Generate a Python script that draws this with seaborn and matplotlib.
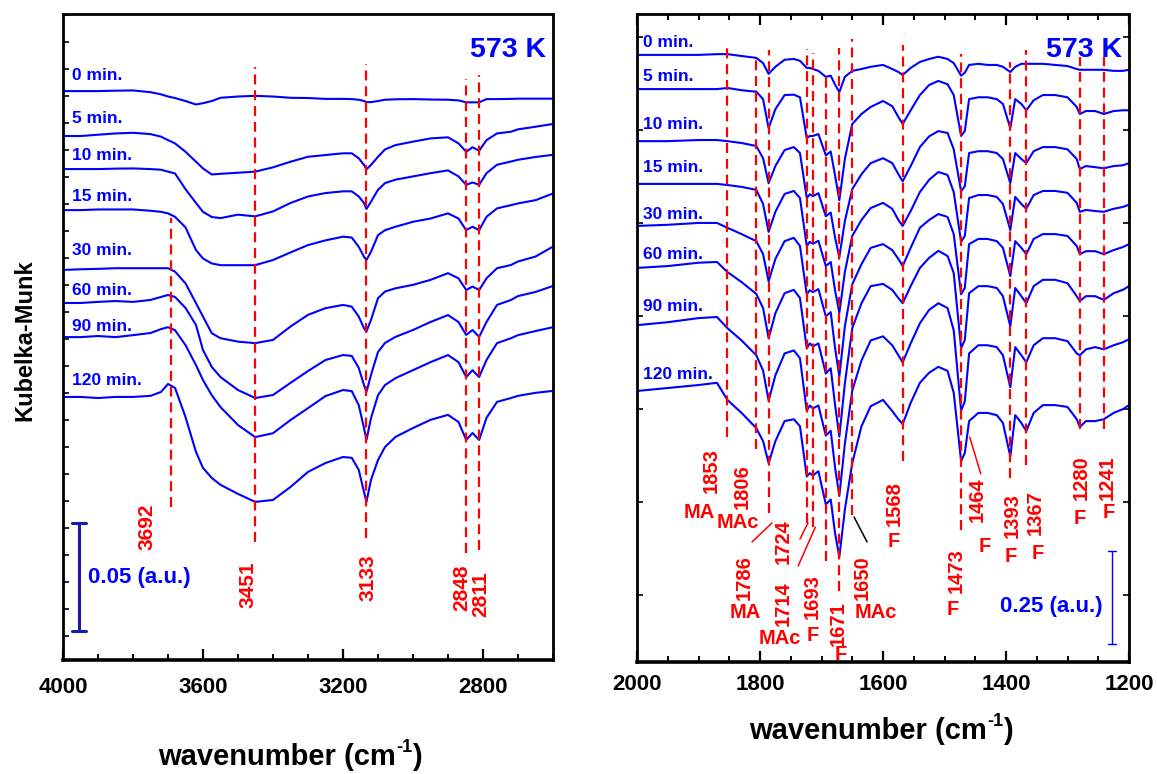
import numpy as np
import pandas as pd
import matplotlib
matplotlib.use("Agg")
import matplotlib.pyplot as plt
from matplotlib.ticker import MultipleLocator, NullFormatter
import seaborn as sns

sns.set_theme(style="ticks")
plt.rcParams["font.family"] = ["Liberation Sans", "DejaVu Sans"]
plt.rcParams["text.color"] = "black"
plt.rcParams["xtick.color"] = "black"
plt.rcParams["ytick.color"] = "black"
plt.rcParams["xtick.labelcolor"] = "black"

BLUE = "#0000ff"
RED = "#ff0000"

times = ["0 min.", "5 min.", "10 min.", "15 min.", "30 min.", "60 min.", "90 min.", "120 min."]

# ---- OH / CH stretching region (K-M, 1e-3 units, relative to the trace start) ----
wn_oh = [4000, 3950, 3900, 3850, 3800, 3750, 3720, 3700, 3680, 3650, 3620, 3600, 3575, 3550,
         3500, 3451, 3400, 3350, 3300, 3250, 3200, 3175, 3155, 3140, 3133, 3120, 3100, 3080,
         3050, 3000, 2950, 2900, 2870, 2848, 2830, 2811, 2790, 2760, 2720, 2700, 2650, 2600]
oh_0 = [0, 0, 0, 0.2, 0.3, -0.5, -1.5, -2.5, -3.2, -4.6, -6.2, -5.6, -4.6, -3.1, -2.5, -2.2,
        -2.5, -3.1, -3.2, -3.6, -3.6, -3.7, -4.0, -4.6, -5.1, -5.1, -4.6, -4.0, -3.8, -3.7,
        -3.9, -4.0, -4.3, -5.2, -5.2, -5.2, -3.7, -3.7, -3.6, -3.5, -3.5, -3.5]
oh_5 = [0, 0, 0.6, 1.2, 1.5, 0.9, -0.3, -1.9, -3.4, -7.3, -11.9, -15.0, -17.8, -17.5, -17.0,
        -16.5, -14.5, -11.9, -9.6, -8.8, -8.0, -8.0, -10.3, -13.4, -15.4, -13.4, -9.6, -6.2,
        -4.2, -2.6, -1.1, -0.6, -3.4, -7.3, -5.2, -6.8, -1.9, 1.2, 2.0, 3.1, 4.3, 5.6]
oh_10 = [0, 0, 0, 0.2, 0.3, 0, -0.3, -1.2, -2.0, -9.3, -15.7, -19.8, -22.2, -22.7, -21.1,
         -21.9, -19.6, -15.7, -12.7, -11.1, -10.3, -10.3, -12.7, -15.7, -18.5, -15.1, -9.6,
         -6.5, -4.9, -3.4, -1.9, -0.6, -3.4, -7.3, -6.2, -7.3, -1.9, 2.0, 3.5, 4.3, 5.6, 6.6]
oh_15 = [0, 0, 0.3, 0.3, 0.3, -0.3, -0.8, -1.5, -3.1, -8.0, -18.5, -22.4, -24.7, -25.5, -25.5,
         -25.5, -23.1, -19.6, -16.2, -14.0, -12.3, -12.7, -17.0, -21.6, -23.1, -19.3, -11.6,
         -9.3, -7.7, -5.4, -3.9, -1.5, -3.9, -9.3, -7.7, -9.3, -3.1, 0.8, 2.3, 3.1, 4.6, 7.7]
oh_30 = [0, 0.3, 0.5, 0.8, 0.8, 0.8, 0.8, 0.8, -0.8, -6.2, -15.4, -21.6, -29.3, -31.6, -33.2,
         -33.9, -32.4, -26.2, -20.8, -17.7, -16.2, -17.0, -21.6, -27.0, -28.5, -23.1, -13.1,
         -10.0, -8.5, -6.9, -4.6, -1.5, -3.9, -9.3, -7.7, -9.3, -3.9, 0.8, 2.3, 3.9, 6.2, 10.8]
oh_60 = [0, 0, 0.5, 0.9, 0.5, 1.4, 2.8, 3.7, 2.8, -2.3, -10.2, -21.8, -29.6, -34.3, -40.3,
         -44.0, -42.6, -37.0, -31.5, -26.4, -24.1, -24.5, -30.1, -38.0, -41.2, -33.3, -22.7,
         -18.5, -15.7, -12.5, -8.8, -5.6, -8.8, -14.8, -12.5, -15.7, -8.8, -0.9, 1.4, 3.2, 5.1, 7.9]
oh_90 = [0, 0, 0.5, 0, 0.9, 1.9, 3.7, 4.6, 3.2, -3.7, -13.0, -19.9, -26.9, -32.4, -40.7,
         -46.3, -44.5, -38.4, -32.9, -27.3, -24.5, -25.0, -31.5, -42.1, -47.7, -37.5, -26.9,
         -22.2, -19.0, -15.3, -11.6, -8.3, -11.6, -18.5, -15.3, -18.5, -10.6, -2.8, -0.5, 0.9, 2.8, 4.6]
oh_120 = [0, 0, -0.5, 0, 0, 0.5, 2.3, 6.0, 4.2, -9.3, -25.5, -32.9, -37.5, -40.7, -44.9,
          -48.6, -47.7, -41.7, -34.7, -30.6, -27.8, -28.2, -33.8, -44.0, -48.6, -38.4, -29.2,
          -23.2, -18.5, -14.4, -10.6, -8.3, -11.6, -19.9, -16.7, -19.9, -9.7, -2.3, -0.5, 0.5, 1.9, 2.8]
oh_offset = [252.3, 231.5, 216.2, 197.2, 169.5, 154.2, 138.4, 110.7]
oh_bands = [3692, 3451, 3133, 2848, 2811]

# ---- fingerprint region (K-M, 1e-3 units, relative to the trace start) ----
wn_fp = [2000, 1950, 1900, 1870, 1853, 1830, 1806, 1795, 1786, 1775, 1760, 1745, 1735, 1724,
         1719, 1714, 1705, 1693, 1685, 1678, 1671, 1662, 1650, 1635, 1620, 1600, 1585, 1575,
         1568, 1555, 1540, 1525, 1510, 1495, 1485, 1473, 1467, 1460, 1445, 1430, 1415, 1405,
         1393, 1385, 1375, 1367, 1355, 1340, 1320, 1300, 1285, 1280, 1270, 1255, 1241, 1225,
         1210, 1200]
fp_0 = [0, 0, 0, 2, 2, -3, -8, -22, -51, -32, -13, -11, -16, -35, -35, -38, -43, -59, -56, -80,
        -100, -59, -43, -38, -32, -27, -38, -46, -54, -35, -19, -11, -5, -11, -22, -56, -48,
        -27, -24, -27, -27, -32, -46, -32, -24, -24, -24, -24, -27, -30, -38, -40, -40, -40,
        -40, -43, -43, -40]
fp_5 = [0, 0, 0, 0, 3, -3, -7, -27, -105, -54, -16, -15, -22, -132, -126, -126, -121, -178,
        -168, -232, -299, -188, -94, -67, -48, -32, -46, -75, -94, -57, -16, 11, 22, 13, -16,
        -126, -113, -27, -22, -22, -27, -40, -105, -27, -40, -57, -30, -16, -16, -22, -48, -67,
        -59, -59, -67, -59, -57, -57]
fp_10 = [0, 0, 3, 3, 0, -5, -13, -46, -113, -67, -24, -16, -32, -153, -143, -148, -140, -202,
         -192, -259, -312, -215, -129, -89, -59, -46, -59, -89, -108, -67, -16, 13, 27, 22, -22,
         -135, -121, -32, -27, -27, -32, -48, -113, -32, -48, -59, -27, -16, -16, -22, -48, -75,
         -67, -70, -73, -67, -65, -59]
fp_15 = [0, 0, 0, 0, -3, -8, -16, -54, -129, -75, -27, -19, -38, -167, -156, -161, -153, -221,
         -210, -286, -347, -237, -140, -97, -65, -51, -67, -97, -113, -73, -22, 11, 32, 24, -22,
         -156, -140, -38, -30, -30, -35, -54, -124, -35, -54, -67, -30, -19, -19, -24, -51, -75,
         -70, -73, -75, -67, -62, -56]
fp_30 = [0, 3, 8, 8, -5, -22, -41, -76, -149, -89, -41, -32, -54, -184, -173, -178, -170, -243,
         -232, -328, -405, -270, -157, -103, -59, -49, -65, -89, -108, -59, -5, 16, 32, 24, -22,
         -184, -167, -49, -35, -35, -41, -59, -135, -41, -59, -76, -35, -22, -22, -27, -54, -76,
         -68, -68, -76, -65, -57, -49]
fp_60 = [0, 5, 14, 16, -11, -38, -70, -108, -189, -122, -68, -59, -81, -216, -203, -211, -203,
         -284, -270, -368, -454, -311, -162, -95, -49, -43, -59, -81, -95, -49, 0, 27, 46, 32,
         -14, -216, -194, -68, -49, -49, -54, -76, -157, -54, -76, -95, -49, -32, -32, -41, -76,
         -89, -76, -76, -86, -68, -59, -49]
fp_90 = [0, 8, 19, 22, -8, -41, -81, -122, -203, -135, -76, -68, -89, -230, -216, -224, -216,
         -297, -284, -382, -459, -319, -176, -95, -41, -30, -54, -81, -100, -49, 5, 41, 59, 46,
         -14, -230, -205, -76, -54, -54, -59, -81, -167, -59, -81, -100, -54, -35, -35, -43, -76,
         -81, -65, -59, -65, -54, -46, -38]
fp_120 = [0, 8, 16, 22, -24, -59, -100, -135, -194, -135, -81, -76, -95, -230, -221, -227, -216,
          -305, -292, -382, -446, -319, -194, -95, -41, -24, -54, -76, -89, -32, 22, 49, 65, 54,
          -5, -189, -167, -81, -59, -59, -65, -86, -176, -65, -86, -108, -59, -38, -38, -43, -76,
          -97, -81, -81, -76, -59, -49, -38]
fp_offset = [1453, 1361, 1221, 1106, 993, 880, 726, 549]
fp_bands = [1853, 1806, 1786, 1724, 1714, 1693, 1671, 1650, 1568, 1473, 1393, 1367, 1280, 1241]


def stacked_frame(wn, traces, offsets):
    rows = []
    for label, trace, off in zip(times, traces, offsets):
        for w, v in zip(wn, trace):
            rows.append({"wavenumber": w, "km": v + off, "time": label})
    return pd.DataFrame(rows)


df_oh = stacked_frame(wn_oh, [oh_0, oh_5, oh_10, oh_15, oh_30, oh_60, oh_90, oh_120], oh_offset)
df_fp = stacked_frame(wn_fp, [fp_0, fp_5, fp_10, fp_15, fp_30, fp_60, fp_90, fp_120], fp_offset)

W, H = 1157, 774
fig = plt.figure(figsize=(W / 100, H / 100), dpi=100)
ax1 = fig.add_axes([63 / W, 1 - 660 / H, 490 / W, 646 / H])
ax2 = fig.add_axes([637 / W, 1 - 662 / H, 492 / W, 648 / H])

for ax, df in ((ax1, df_oh), (ax2, df_fp)):
    sns.lineplot(data=df, x="wavenumber", y="km", hue="time", palette=[BLUE] * 8,
                 legend=False, sort=False, estimator=None, lw=1.5, ax=ax)
    ax.set_xlabel("")
    ax.set_ylabel("")
    for s in ax.spines.values():
        s.set_linewidth(2.0)
        s.set_color("black")
    ax.spines["bottom"].set_linewidth(2.6)
    ax.yaxis.set_major_formatter(NullFormatter())
    ax.tick_params(axis="x", which="major", direction="in", length=8, width=1.6,
                   labelsize=16, pad=12, colors="black", labelcolor="black")
    ax.tick_params(axis="x", which="minor", direction="in", length=4.5, width=1.4,
                   colors="black")
    ax.tick_params(axis="y", which="major", direction="in", length=4, width=1.2,
                   colors="black")

# ---- left panel ----
ax1.set_xlim(4000, 2600)
ax1.set_ylim(-11.1, 288)
ax1.xaxis.set_minor_locator(MultipleLocator(100))
ax1.yaxis.set_major_locator(MultipleLocator(12.5))
ax1.set_xticks([4000, 3600, 3200, 2800])
ax1.set_xticklabels(["4000", "3600", "3200", "2800"], fontweight="bold", color="black")

oh_line_span = {3692: (59.7, 193.5), 3451: (43.5, 263.4), 3133: (45.4, 264.8),
                2848: (38.4, 257.9), 2811: (39.8, 259.7)}
for b in oh_bands:
    y0, y1 = oh_line_span[b]
    ax1.plot([b, b], [y0, y1], color=RED, lw=1.6, dashes=(4.5, 2.6), zorder=3)

oh_label_pos = {3692: (3760, 50.5), 3451: (3471, 23.6), 3133: (3129, 26.9),
                2848: (2860, 22.2), 2811: (2806, 19.4)}
for b in oh_bands:
    x, y = oh_label_pos[b]
    ax1.text(x, y, str(b), color=RED, rotation=90, ha="center", va="center",
             fontsize=15, fontweight="bold")

for label, y in zip(times, [259.7, 239.8, 222.7, 203.3, 178.7, 160.2, 143.5, 118.1]):
    ax1.text(3974, y, label, color=BLUE, fontsize=12.5, fontweight="bold", ha="left", va="center")

ax1.text(0.985, 0.965, "573 K", transform=ax1.transAxes, color=BLUE, fontsize=20.5,
         fontweight="bold", ha="right", va="top")

# 0.05 a.u. scale bar
ax1.plot([3954, 3954], [2.5, 52.5], color="#1a1aa8", lw=2.2)
ax1.plot([3975, 3933], [2.5, 2.5], color="#1a1aa8", lw=2.2)
ax1.plot([3975, 3933], [52.5, 52.5], color="#1a1aa8", lw=2.2)
ax1.text(3928, 27.3, "0.05 (a.u.)", color=BLUE, fontsize=16, fontweight="bold",
         ha="left", va="center")

# ---- right panel ----
ax2.set_xlim(2000, 1200)
ax2.set_ylim(-180, 1563)
ax2.xaxis.set_minor_locator(MultipleLocator(50))
ax2.yaxis.set_major_locator(MultipleLocator(250))
ax2.set_xticks([2000, 1800, 1600, 1400, 1200])
ax2.set_xticklabels(["2000", "1800", "1600", "1400", "1200"], fontweight="bold", color="black")
ax2.tick_params(axis="x", which="both", top=True)
ax2.tick_params(axis="x", which="major", pad=9)
ax2.tick_params(axis="y", which="both", right=True)

fp_line_span = {1853: (425, 1485), 1806: (393, 1447), 1786: (221, 1466), 1724: (194, 1469),
                1714: (183, 1458), 1693: (91, 1393), 1671: (11, 1471), 1650: (215, 1496),
                1568: (360, 1480), 1473: (175, 1455), 1393: (315, 1434), 1367: (350, 1466),
                1280: (447, 1447), 1241: (447, 1447)}
for b in fp_bands:
    y0, y1 = fp_line_span[b]
    ax2.plot([b, b], [y0, y1], color=RED, lw=1.6, dashes=(4.5, 2.6), zorder=3)

# band labels: (text, x, y, rotated)
fp_labels = [
    ("1853", 1880, 334, True), ("MA", 1898, 223, False),
    ("1806", 1829, 291, True), ("MAc", 1836, 196, False),
    ("1786", 1826, 48, True), ("MA", 1824, -48, False),
    ("1724", 1763, 145, True), ("1714", 1763, -22, True), ("MAc", 1767, -118, False),
    ("1693", 1715, -5, True), ("F", 1714, -110, False),
    ("1671", 1672, -78, True), ("F", 1668, -161, False),
    ("1650", 1634, 48, True), ("MAc", 1611, -48, False),
    ("1568", 1582, 247, True), ("F", 1582, 143, False),
    ("1473", 1481, 67, True), ("F", 1486, -40, False),
    ("1464", 1446, 256, True), ("F", 1434, 132, False),
    ("1393", 1390, 215, True), ("F", 1393, 105, False),
    ("1367", 1353, 223, True), ("F", 1348, 113, False),
    ("1280", 1278, 315, True), ("F", 1280, 207, False),
    ("1241", 1236, 317, True), ("F", 1233, 221, False),
]
for txt, x, y, rot in fp_labels:
    ax2.text(x, y, txt, color=RED, rotation=90 if rot else 0, ha="center", va="center",
             fontsize=14.5, fontweight="bold")

leaders = [((1780.5, 194), (1813, 143), RED), ((1722, 194), (1735, 151), RED),
           ((1710, 183), (1738, 78), RED), ((1647, 210), (1626, 143), "black"),
           ((1459, 425), (1441, 326), RED)]
for (xa, ya), (xb, yb), c in leaders:
    ax2.plot([xa, xb], [ya, yb], color=c, lw=1.1)

for label, y in zip(times, [1485, 1396, 1267, 1151, 1025, 915, 775, 594]):
    ax2.text(1990, y, label, color=BLUE, fontsize=12.5, fontweight="bold", ha="left", va="center")

ax2.text(0.985, 0.965, "573 K", transform=ax2.transAxes, color=BLUE, fontsize=20.5,
         fontweight="bold", ha="right", va="top")

# 0.25 a.u. scale bar
ax2.plot([1228, 1228], [-132, 118], color=BLUE, lw=1.0)
ax2.plot([1234.5, 1221.5], [-132, -132], color=BLUE, lw=1.0)
ax2.plot([1234.5, 1221.5], [118, 118], color=BLUE, lw=1.0)
ax2.text(1410, -30, "0.25 (a.u.)", color=BLUE, fontsize=16, fontweight="bold",
         ha="left", va="center")

# ---- axis titles: "wavenumber (cm-1)" with a raised "-1" ----
renderer = fig.canvas.get_renderer()


def axis_title(cx, cy):
    parts = [("wavenumber (cm", 21, 0), ("-1", 13, 10), (")", 21, 0)]
    texts = []
    for s, fs, dy in parts:
        texts.append(fig.text(0, 1 - (cy - dy) / H, s, ha="left", va="center",
                              fontsize=fs, fontweight="bold", color="black"))
    widths = [t.get_window_extent(renderer).width for t in texts]
    x = cx - sum(widths) / 2
    for t, w in zip(texts, widths):
        t.set_x(x / W)
        x += w


axis_title(290, 757)
axis_title(881, 731)
fig.text(25 / W, 1 - 340 / H, "Kubelka-Munk", rotation=90, ha="center", va="center",
         fontsize=17, fontweight="bold", color="black")

fig.savefig("out.png", dpi=100)
